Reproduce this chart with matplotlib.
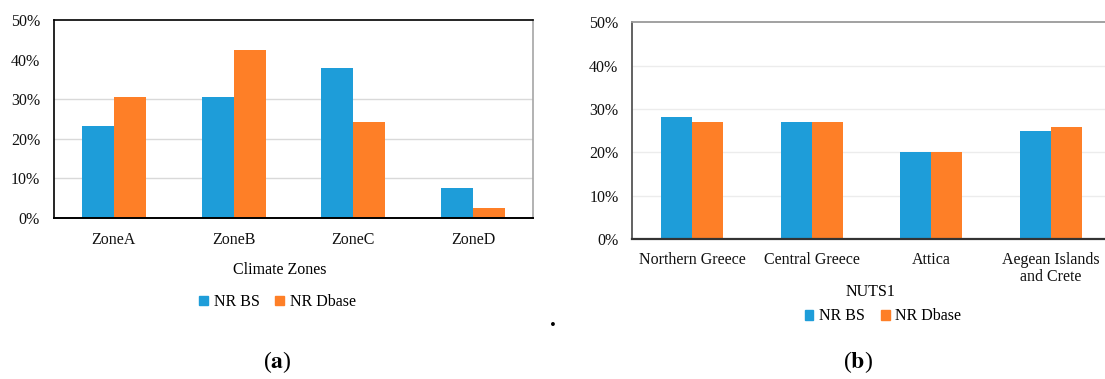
import matplotlib
matplotlib.use("Agg")
import matplotlib.pyplot as plt
import numpy as np
from matplotlib.patches import Patch

# ---- data (percent) ----
zones = ["ZoneA", "ZoneB", "ZoneC", "ZoneD"]
zone_nr_bs = [23.2, 30.6, 37.9, 7.6]
zone_nr_dbase = [30.6, 42.4, 24.2, 2.5]

regions = ["Northern Greece", "Central Greece", "Attica", "Aegean Islands\nand Crete"]
region_nr_bs = [28.2, 26.9, 20.0, 24.9]
region_nr_dbase = [26.9, 26.9, 20.0, 25.9]

y_ticks = [0, 10, 20, 30, 40, 50]
series_names = ["NR BS", "NR Dbase"]

BLUE = "#1E9DD9"
ORANGE = "#FE7F27"
SERIF = "Liberation Serif"
FS = 11.5

plt.rcParams["font.family"] = SERIF
plt.rcParams["mathtext.fontset"] = "stix"

W, H = 1105, 379
fig = plt.figure(figsize=(W / 100, H / 100), dpi=100)


def px_axes(x0, y0, x1, y1):
    return fig.add_axes([x0 / W, 1 - y1 / H, (x1 - x0) / W, (y1 - y0) / H])


def draw_panel(ax, cats, s1, s2, width, grid_vals, grid_color, spine_colors, pad_x):
    x = np.arange(len(cats))
    ax.bar(x - width / 2, s1, width, color=BLUE, zorder=3)
    ax.bar(x + width / 2, s2, width, color=ORANGE, zorder=3)
    ax.set_xlim(-0.5, len(cats) - 0.5)
    ax.set_ylim(0, 50)
    for g in grid_vals:
        ax.axhline(g, color=grid_color, lw=1.0, zorder=1)
    ax.set_yticks(y_ticks)
    ax.set_yticklabels([f"{v}%" for v in y_ticks], fontsize=FS)
    ax.set_xticks(x)
    ax.set_xticklabels(cats, fontsize=FS, linespacing=1.15)
    ax.tick_params(axis="both", length=0, colors="#111111")
    ax.tick_params(axis="y", pad=10)
    ax.tick_params(axis="x", pad=pad_x)
    for side, (c, lw) in spine_colors.items():
        ax.spines[side].set_color(c)
        ax.spines[side].set_linewidth(lw)
        ax.spines[side].set_zorder(4)


# ---- (a) climate zones ----
ax1 = px_axes(54, 20, 533, 218)
draw_panel(ax1, zones, zone_nr_bs, zone_nr_dbase, 0.267, [10, 20, 30], "#D9D9D9",
           {"top": ("#000000", 1.2), "left": ("#000000", 1.2),
            "bottom": ("#000000", 1.4), "right": ("#A6A6A6", 1.2)}, 10)

# ---- (b) NUTS1 ----
ax2 = px_axes(632.3, 22.3, 1111, 239)
draw_panel(ax2, regions, region_nr_bs, region_nr_dbase, 0.259, [10, 20, 30, 40], "#ECECEC",
           {"top": ("#9A9A9A", 1.3), "left": ("#555555", 1.3),
            "bottom": ("#333333", 1.6), "right": ("#9A9A9A", 1.3)}, 9)

# axis titles
fig.text(280 / W, 1 - 270 / H, "Climate Zones", ha="center", va="center", fontsize=FS)
fig.text(871 / W, 1 - 292.5 / H, "NUTS1", ha="center", va="center", fontsize=FS)

handles = [Patch(color=BLUE, label=series_names[0]), Patch(color=ORANGE, label=series_names[1])]
for cx, cy in [(277.5, 302), (883, 316.5)]:
    fig.legend(handles=handles, loc="center", bbox_to_anchor=(cx / W, 1 - cy / H),
               ncol=2, frameon=False, fontsize=FS, handlelength=0.55, handleheight=0.55,
               handletextpad=0.35, columnspacing=1.0, borderpad=0, borderaxespad=0)

# panel labels
fig.text(277 / W, 1 - 362 / H, r"($\mathbf{a}$)", ha="center", va="center", fontsize=17)
fig.text(858 / W, 1 - 362 / H, r"($\mathbf{b}$)", ha="center", va="center", fontsize=17)
fig.text(552.7 / W, 1 - 321 / H, ".", ha="center", va="center", fontsize=17, fontweight="bold")

fig.savefig("out.png", dpi=100)
